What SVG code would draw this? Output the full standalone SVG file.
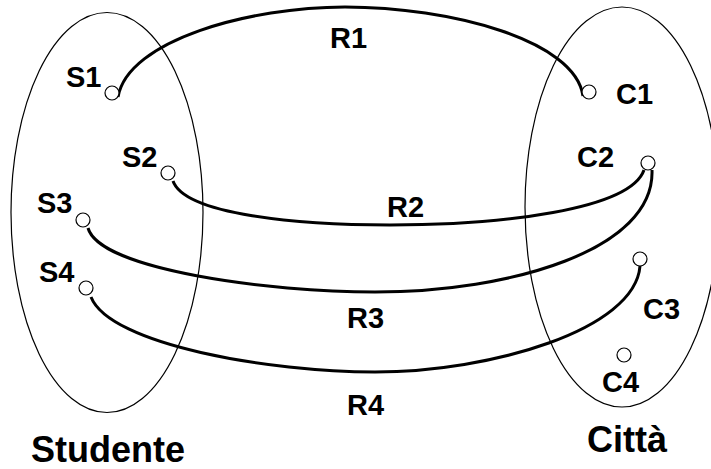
<svg xmlns="http://www.w3.org/2000/svg" width="711" height="469" viewBox="0 0 711 469">
<style>
.set{fill:none;stroke:#000;stroke-width:1.2}
.pt{fill:#fff;stroke:#000;stroke-width:1.2}
.rel{fill:none;stroke:#000;stroke-width:3}
.lbl{font-family:"Liberation Sans",Arial,sans-serif;font-weight:bold;font-size:29px;fill:#000}
.big{font-family:"Liberation Sans",Arial,sans-serif;font-weight:bold;font-size:36px;fill:#000}
</style>
<rect width="711" height="469" fill="#fff"/>
<g id="Studente">
<ellipse class="set" cx="107" cy="212.5" rx="96" ry="200"/>
<text class="big" x="31" y="462">Studente</text>
</g>
<g id="Citta">
<ellipse class="set" cx="622" cy="207" rx="97" ry="200"/>
<text class="big" x="587" y="452">Città</text>
</g>
<g id="connectors">
<path class="rel" d="M118 97 C128 40 250 7 345 7 C450 7 575 40 583 96"/>
<path class="rel" d="M173 181 C185 215 300 225 390 225 C500 225 630 210 644 170"/>
<path class="rel" d="M88 228 C100 270 270 292 375 292 C510 292 655 250 652 170"/>
<path class="rel" d="M91 297 C110 345 270 372 375 372 C490 372 635 330 640 266"/>
</g>
<g id="S1"><circle class="pt" cx="112" cy="93" r="7"/><text class="lbl" x="66" y="87">S1</text></g>
<g id="S2"><circle class="pt" cx="168" cy="173" r="7"/><text class="lbl" x="122" y="167">S2</text></g>
<g id="S3"><circle class="pt" cx="83" cy="220" r="7"/><text class="lbl" x="37" y="213">S3</text></g>
<g id="S4"><circle class="pt" cx="86" cy="288" r="7"/><text class="lbl" x="39" y="282">S4</text></g>
<g id="C1"><circle class="pt" cx="589" cy="92" r="7"/><text class="lbl" x="616" y="104">C1</text></g>
<g id="C2"><circle class="pt" cx="648" cy="163" r="7"/><text class="lbl" x="577" y="167">C2</text></g>
<g id="C3"><circle class="pt" cx="640" cy="259" r="7"/><text class="lbl" x="643" y="319">C3</text></g>
<g id="C4"><circle class="pt" cx="624" cy="355" r="7"/><text class="lbl" x="602" y="392">C4</text></g>
<g id="labels">
<text class="lbl" x="330" y="48">R1</text>
<text class="lbl" x="387" y="217">R2</text>
<text class="lbl" x="347" y="328">R3</text>
<text class="lbl" x="347" y="415">R4</text>
</g>
</svg>
